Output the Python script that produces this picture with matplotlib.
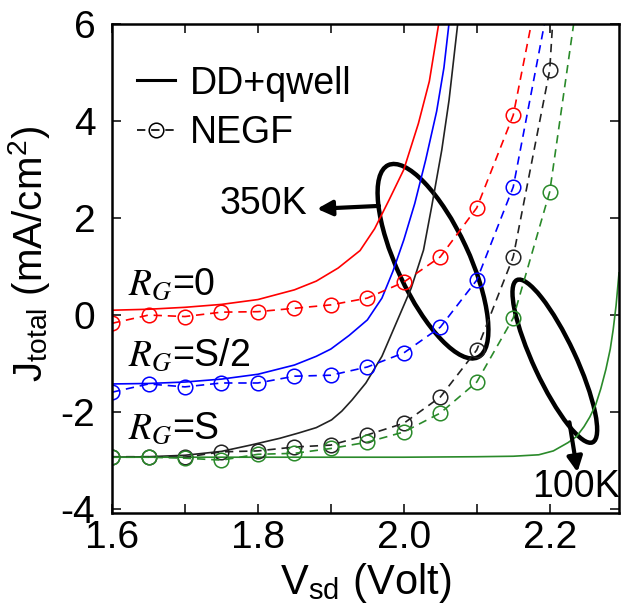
import matplotlib
matplotlib.use("Agg")
import matplotlib.pyplot as plt
import matplotlib.transforms as mtransforms
from matplotlib.patches import Ellipse
from matplotlib.lines import Line2D
from matplotlib.ticker import MultipleLocator, FuncFormatter

plt.rcParams['font.family'] = ['Liberation Sans', 'DejaVu Sans']
plt.rcParams['mathtext.fontset'] = 'stix'
plt.rcParams['axes.unicode_minus'] = False

# --- DD+qwell (solid lines) ---
dd_red_v = [1.60, 1.65, 1.70, 1.75, 1.80, 1.85, 1.88, 1.91, 1.94, 1.96, 1.98, 2.00, 2.02, 2.035, 2.048]
dd_red_j = [0.10, 0.12, 0.16, 0.22, 0.32, 0.52, 0.70, 0.97, 1.33, 1.78, 2.38, 3.00, 3.95, 4.82, 6.02]

dd_blue_v = [1.60, 1.65, 1.70, 1.75, 1.80, 1.85, 1.88, 1.90, 1.925, 1.95, 1.97, 1.985, 2.00, 2.015, 2.03, 2.045, 2.055, 2.062]
dd_blue_j = [-1.42, -1.41, -1.38, -1.32, -1.22, -1.03, -0.85, -0.70, -0.42, -0.10, 0.35, 0.90, 1.55, 2.30, 3.20, 4.20, 5.10, 6.02]

dd_black_v = [1.60, 1.65, 1.70, 1.75, 1.79, 1.83, 1.856, 1.88, 1.901, 1.915, 1.929, 1.948, 1.97, 1.99, 2.01, 2.027, 2.038, 2.052, 2.062, 2.074]
dd_black_j = [-2.93, -2.92, -2.89, -2.81, -2.68, -2.54, -2.43, -2.32, -2.16, -1.98, -1.75, -1.40, -0.85, -0.15, 0.55, 1.34, 2.22, 3.40, 4.43, 6.02]

dd_green_v = [1.60, 1.80, 2.00, 2.10, 2.15, 2.185, 2.205, 2.225, 2.237, 2.247, 2.255, 2.263, 2.27, 2.277, 2.283, 2.287, 2.291, 2.295]
dd_green_j = [-2.93, -2.93, -2.93, -2.92, -2.91, -2.88, -2.80, -2.63, -2.50, -2.30, -2.10, -1.85, -1.52, -1.12, -0.70, -0.30, 0.20, 0.87]

# --- NEGF (dashed + open circles); last point is where the dashed line leaves the top ---
negf_v = [1.60, 1.65, 1.70, 1.75, 1.80, 1.85, 1.90, 1.95, 2.00, 2.05, 2.10, 2.15, 2.20]

negf_red_v = negf_v[:12] + [2.175]
negf_red_j = [-0.17, 0.00, -0.03, 0.06, 0.07, 0.14, 0.21, 0.35, 0.68, 1.20, 2.21, 4.12, 6.02]

negf_blue_v = negf_v[:12] + [2.193]
negf_blue_j = [-1.59, -1.42, -1.48, -1.40, -1.40, -1.26, -1.24, -1.07, -0.78, -0.25, 0.72, 2.64, 6.02]

negf_black_v = negf_v + [2.204]
negf_black_j = [-2.92, -2.92, -2.93, -2.82, -2.80, -2.72, -2.68, -2.47, -2.23, -1.69, -0.72, 1.20, 5.05, 6.02]

negf_green_v = negf_v + [2.233]
negf_green_j = [-2.93, -2.93, -2.95, -2.99, -2.87, -2.85, -2.75, -2.62, -2.41, -2.02, -1.38, -0.06, 2.54, 6.02]

RED, BLUE, BLACK, GREEN = '#ff0000', '#0000ff', '#222222', '#2a8a2a'

fig = plt.figure(figsize=(6.21, 6.14), dpi=100)
ax = fig.add_axes([0.1804, 0.1645, 0.8164, 0.7964])

dash = (0, (5, 3.5))
for v, j, c in [(dd_red_v, dd_red_j, RED), (dd_blue_v, dd_blue_j, BLUE),
                (dd_black_v, dd_black_j, BLACK), (dd_green_v, dd_green_j, GREEN)]:
    ax.plot(v, j, color=c, lw=1.2)

for v, j, c in [(negf_red_v, negf_red_j, RED), (negf_blue_v, negf_blue_j, BLUE),
                (negf_black_v, negf_black_j, BLACK), (negf_green_v, negf_green_j, GREEN)]:
    ax.plot(v, j, color=c, lw=1.2, ls=dash, marker='o', ms=10.5, mfc='none',
            mew=1.1, markevery=slice(0, len(v) - 1))

ax.set_xlim(1.6, 2.295)
ax.set_ylim(-4.08, 6.0)

ax.xaxis.set_major_locator(MultipleLocator(0.1))
ax.xaxis.set_major_formatter(FuncFormatter(
    lambda x, p: f'{x:.1f}' if round(x * 10) % 2 == 0 else ''))
ax.yaxis.set_major_locator(MultipleLocator(2))
ax.yaxis.set_major_formatter(FuncFormatter(lambda y, p: f'{y:.0f}'))
ax.tick_params(direction='in', top=True, right=True, length=6.5, width=1.1,
               labelsize=28)
ax.tick_params(axis='x', pad=5)
ax.tick_params(axis='y', pad=12)
for s in ax.spines.values():
    s.set_linewidth(1.8)

ax.set_xlabel(r'V$_\mathregular{sd}$ (Volt)', fontsize=30, labelpad=4)
ax.set_ylabel(r'J$_\mathregular{total}$ (mA/cm$^\mathregular{2}$)', fontsize=29)
ax.yaxis.set_label_coords(-0.118, 0.53)

# legend
handles = [Line2D([], [], color='k', lw=2.2),
           Line2D([], [], color='k', lw=1.2, ls=dash, marker='o', ms=10.5,
                  mfc='none', mew=1.1)]
ax.legend(handles, ['DD+qwell', 'NEGF'], loc='upper left',
          bbox_to_anchor=(0.05, 0.915), frameon=False, fontsize=27,
          handlelength=1.0, handletextpad=0.4, labelspacing=0.35,
          borderpad=0, borderaxespad=0)

# R_G labels
ax.text(1.622, 0.41, r'$R_G$=0', fontsize=27, va='baseline')
ax.text(1.622, -1.05, r'$R_G$=S/2', fontsize=27, va='baseline')
ax.text(1.622, -2.56, r'$R_G$=S', fontsize=27, va='baseline')

# temperature ellipses (drawn in pixels so the tilt is not distorted)
fig.canvas.draw()
for (cx, cy), w, h in [((2.04, 1.11), 212, 72), ((2.207, -0.95), 179, 42)]:
    px, py = ax.transData.transform((cx, cy))
    ax.add_patch(Ellipse((px, py), w, h, angle=115, fill=False, lw=3.2,
                         color='k', transform=mtransforms.IdentityTransform(),
                         clip_on=False))

ax.annotate('', xy=(1.881, 2.19), xytext=(1.966, 2.25),
            arrowprops=dict(arrowstyle='-|>,head_length=0.9,head_width=0.45',
                            color='k', lw=3, shrinkA=0, shrinkB=0))
ax.text(1.868, 2.29, '350K', fontsize=27, ha='right', va='center')

ax.annotate('', xy=(2.238, -3.24), xytext=(2.227, -2.21),
            arrowprops=dict(arrowstyle='-|>,head_length=0.9,head_width=0.45',
                            color='k', lw=3, shrinkA=0, shrinkB=0))
ax.text(2.236, -3.55, '100K', fontsize=27, ha='center', va='center')

fig.savefig('out.png', dpi=100)
